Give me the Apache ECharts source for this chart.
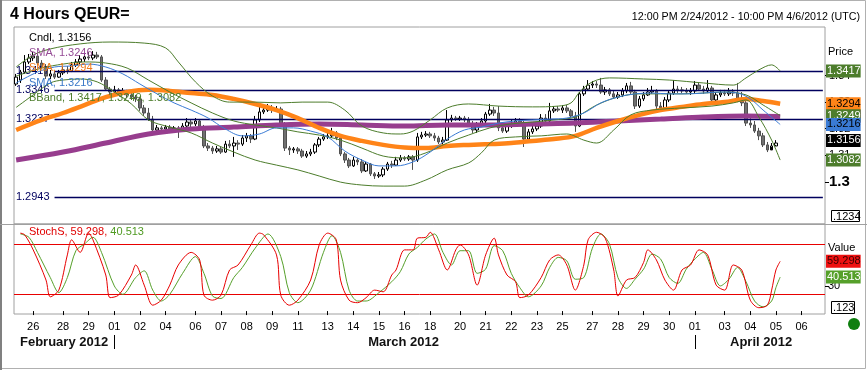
<!DOCTYPE html>
<html><head><meta charset="utf-8">
<script src="https://cdn.jsdelivr.net/npm/echarts@6/dist/echarts.min.js"></script>
<style>html,body{margin:0;padding:0;background:#fff}#c{width:867px;height:370px}</style>
</head><body><div id="c"></div>
<script>
const FONT = '"Liberation Sans", Arial, sans-serif';

// ---- axis structure (4-hour slots) ----
const slotCount = 190;
const dayTicks = [[4,'26'],[11,'28'],[17,'29'],[23,'01'],[29,'02'],[35,'04'],[42,'06'],[48,'07'],[54,'08'],[60,'09'],[66,'11'],[73,'13'],[79,'14'],[85,'15'],[91,'16'],[97,'18'],[104,'20'],[110,'21'],[116,'22'],[122,'23'],[128,'25'],[135,'27'],[141,'28'],[147,'29'],[153,'30'],[159,'01'],[166,'03'],[172,'04'],[178,'05'],[184,'06']];
const monthBreaks = [23, 159];
const priceTicks = [1.30, 1.31, 1.32, 1.33, 1.34];
const stochTicks = [30];
const priceLevels = [1.3417, 1.3346, 1.3237, 1.2943];
const stochLevels = [80, 20];

// ---- candles ----
const opens = [1.3368,1.3383,
1.3413,1.3451,1.3466,1.3473,1.3447,1.3432,1.3398,1.3406,1.3394,1.3410,
1.3421,1.3417,1.3440,1.3451,1.3462,1.3470,1.3466,1.3477,1.3470,1.3383,
1.3349,1.3338,1.3346,1.3334,1.3342,1.3327,1.3319,1.3312,1.3278,1.3259,
1.3236,1.3195,1.3203,1.3199,1.3206,1.3199,1.3203,1.3195,1.3210,1.3225,
1.3218,1.3229,1.3206,1.3135,1.3127,1.3116,1.3124,1.3112,1.3142,1.3135,
1.3146,1.3142,1.3165,1.3173,1.3161,1.3233,1.3263,1.3270,1.3278,1.3270,
1.3274,1.3214,1.3127,1.3120,1.3124,1.3116,1.3097,1.3105,1.3112,1.3139,
1.3161,1.3169,1.3173,1.3184,1.3165,1.3105,1.3082,1.3060,1.3082,1.3075,
1.3041,1.3067,1.3030,1.3022,1.3026,1.3048,1.3067,1.3063,1.3082,1.3090,
1.3086,1.3094,1.3082,1.3169,1.3176,1.3180,1.3173,1.3165,1.3150,1.3157,
1.3233,1.3240,1.3236,1.3240,1.3233,1.3218,1.3195,1.3214,1.3229,1.3255,
1.3270,1.3259,1.3203,1.3191,1.3210,1.3221,1.3229,1.3221,1.3161,1.3188,
1.3199,1.3210,1.3240,1.3229,1.3267,1.3274,1.3270,1.3278,1.3267,1.3248,
1.3210,1.3331,1.3349,1.3364,1.3368,1.3364,1.3338,1.3346,1.3331,1.3319,
1.3327,1.3342,1.3361,1.3338,1.3285,1.3312,1.3327,1.3338,1.3342,1.3285,
1.3278,1.3308,1.3334,1.3349,1.3346,1.3342,1.3338,1.3342,1.3364,1.3349,
1.3342,1.3353,1.3308,1.3327,1.3334,1.3331,1.3338,1.3334,1.3308,1.3297,
1.3221,1.3214,1.3191,1.3173,1.3139,1.3120,1.3135,1.3146];
const closes = [1.3394,
1.3413,1.3451,1.3466,1.3473,1.3447,1.3432,1.3398,1.3406,1.3394,1.3410,
1.3421,1.3417,1.3440,1.3451,1.3462,1.3470,1.3466,1.3477,1.3470,1.3383,
1.3349,1.3338,1.3346,1.3334,1.3342,1.3327,1.3319,1.3312,1.3278,1.3259,
1.3236,1.3195,1.3203,1.3199,1.3206,1.3199,1.3203,1.3195,1.3210,1.3225,
1.3218,1.3229,1.3206,1.3135,1.3127,1.3116,1.3124,1.3112,1.3142,1.3135,
1.3146,1.3142,1.3165,1.3173,1.3161,1.3233,1.3263,1.3270,1.3278,1.3270,
1.3274,1.3214,1.3127,1.3120,1.3124,1.3116,1.3097,1.3105,1.3112,1.3139,
1.3161,1.3169,1.3173,1.3184,1.3165,1.3105,1.3082,1.3060,1.3082,1.3075,
1.3041,1.3067,1.3030,1.3022,1.3026,1.3048,1.3067,1.3063,1.3082,1.3090,
1.3086,1.3094,1.3082,1.3169,1.3176,1.3180,1.3173,1.3165,1.3150,1.3157,
1.3233,1.3240,1.3236,1.3240,1.3233,1.3218,1.3195,1.3214,1.3229,1.3255,
1.3270,1.3259,1.3203,1.3191,1.3210,1.3221,1.3229,1.3221,1.3161,1.3188,
1.3199,1.3210,1.3240,1.3229,1.3267,1.3274,1.3270,1.3278,1.3267,1.3248,
1.3210,1.3331,1.3349,1.3364,1.3368,1.3364,1.3338,1.3346,1.3331,1.3319,
1.3327,1.3342,1.3361,1.3338,1.3285,1.3312,1.3327,1.3338,1.3342,1.3285,
1.3278,1.3308,1.3334,1.3349,1.3346,1.3342,1.3338,1.3342,1.3364,1.3349,
1.3342,1.3353,1.3308,1.3327,1.3334,1.3331,1.3338,1.3334,1.3308,1.3297,
1.3221,1.3214,1.3191,1.3173,1.3139,1.3120,1.3135,1.3146,1.3156];
const highs = [1.3406,
1.3421,1.3477,1.3481,1.3489,1.3481,1.3458,1.3443,1.3421,1.3417,1.3421,
1.3432,1.3436,1.3451,1.3462,1.3477,1.3481,1.3489,1.3492,1.3489,1.3477,
1.3394,1.3357,1.3361,1.3353,1.3353,1.3346,1.3334,1.3327,1.3319,1.3289,
1.3278,1.3248,1.3214,1.3210,1.3214,1.3214,1.3210,1.3210,1.3221,1.3240,
1.3236,1.3240,1.3236,1.3214,1.3146,1.3135,1.3135,1.3131,1.3154,1.3157,
1.3169,1.3157,1.3176,1.3184,1.3180,1.3248,1.3282,1.3285,1.3293,1.3289,
1.3285,1.3282,1.3225,1.3135,1.3131,1.3131,1.3124,1.3116,1.3124,1.3146,
1.3169,1.3180,1.3188,1.3203,1.3191,1.3173,1.3112,1.3090,1.3094,1.3090,
1.3086,1.3075,1.3071,1.3037,1.3037,1.3056,1.3075,1.3079,1.3094,1.3101,
1.3097,1.3101,1.3101,1.3184,1.3188,1.3191,1.3188,1.3184,1.3173,1.3169,
1.3270,1.3252,1.3248,1.3248,1.3248,1.3244,1.3229,1.3225,1.3240,1.3263,
1.3293,1.3282,1.3285,1.3218,1.3221,1.3233,1.3240,1.3240,1.3229,1.3199,
1.3210,1.3221,1.3255,1.3255,1.3297,1.3285,1.3285,1.3289,1.3289,1.3274,
1.3263,1.3338,1.3361,1.3383,1.3379,1.3379,1.3391,1.3357,1.3353,1.3342,
1.3338,1.3353,1.3372,1.3376,1.3346,1.3323,1.3338,1.3353,1.3361,1.3349,
1.3300,1.3319,1.3342,1.3383,1.3361,1.3357,1.3353,1.3353,1.3379,1.3372,
1.3361,1.3383,1.3361,1.3338,1.3346,1.3346,1.3353,1.3349,1.3372,1.3338,
1.3304,1.3240,1.3229,1.3203,1.3184,1.3150,1.3146,1.3157,1.3169];
const lows = [1.3361,
1.3372,1.3406,1.3443,1.3455,1.3440,1.3425,1.3387,1.3387,1.3387,1.3391,
1.3402,1.3406,1.3413,1.3432,1.3443,1.3451,1.3458,1.3458,1.3462,1.3376,
1.3342,1.3327,1.3331,1.3323,1.3327,1.3315,1.3308,1.3300,1.3267,1.3248,
1.3229,1.3188,1.3191,1.3191,1.3195,1.3191,1.3191,1.3165,1.3191,1.3206,
1.3206,1.3210,1.3199,1.3127,1.3116,1.3105,1.3109,1.3105,1.3109,1.3127,
1.3094,1.3120,1.3135,1.3150,1.3146,1.3157,1.3225,1.3255,1.3263,1.3259,
1.3263,1.3206,1.3116,1.3101,1.3109,1.3105,1.3090,1.3090,1.3097,1.3105,
1.3131,1.3154,1.3161,1.3165,1.3157,1.3097,1.3071,1.3052,1.3056,1.3063,
1.3033,1.3037,1.3022,1.3011,1.3015,1.3018,1.3041,1.3052,1.3060,1.3075,
1.3079,1.3079,1.3045,1.3075,1.3161,1.3169,1.3165,1.3154,1.3142,1.3139,
1.3154,1.3225,1.3229,1.3229,1.3225,1.3210,1.3184,1.3184,1.3206,1.3218,
1.3248,1.3248,1.3191,1.3184,1.3184,1.3203,1.3218,1.3214,1.3131,1.3154,
1.3180,1.3191,1.3203,1.3221,1.3221,1.3259,1.3263,1.3259,1.3259,1.3240,
1.3188,1.3206,1.3323,1.3342,1.3353,1.3353,1.3331,1.3327,1.3323,1.3312,
1.3312,1.3319,1.3334,1.3331,1.3274,1.3278,1.3304,1.3323,1.3331,1.3274,
1.3270,1.3270,1.3300,1.3327,1.3334,1.3334,1.3331,1.3327,1.3334,1.3342,
1.3331,1.3334,1.3293,1.3304,1.3319,1.3323,1.3323,1.3323,1.3300,1.3285,
1.3210,1.3203,1.3184,1.3157,1.3131,1.3112,1.3131,1.3139];

// ---- indicators: [slot, value] ----
const smaPurple = [[0,1.3082],[11,1.3112],[21,1.3146],[31,1.3180],[41,1.3199],[51,1.3206],[61,1.3214],[71,1.3218],[81,1.3214],[91,1.3210],[101,1.3214],[111,1.3214],[121,1.3218],[131,1.3221],[141,1.3229],[151,1.3236],[161,1.3244],[171,1.3248],[179,1.3246]];
const smaOrange = [[0,1.3195],[6,1.3233],[11,1.3259],[16,1.3289],[21,1.3319],[26,1.3338],[31,1.3346],[36,1.3342],[41,1.3334],[46,1.3327],[51,1.3312],[56,1.3293],[61,1.3270],[66,1.3240],[71,1.3203],[76,1.3173],[81,1.3154],[86,1.3139],[91,1.3129],[96,1.3127],[101,1.3135],[106,1.3139],[111,1.3142],[116,1.3146],[121,1.3154],[126,1.3161],[131,1.3173],[136,1.3203],[141,1.3229],[146,1.3252],[151,1.3270],[156,1.3282],[161,1.3293],[166,1.3300],[171,1.3312],[175,1.3304],[179,1.3294]];
const smaBlue = [[0,1.3372],[5,1.3413],[9,1.3432],[13,1.3436],[17,1.3443],[21,1.3432],[25,1.3406],[29,1.3368],[33,1.3331],[37,1.3297],[41,1.3270],[45,1.3240],[49,1.3199],[53,1.3173],[57,1.3180],[61,1.3203],[65,1.3203],[69,1.3191],[73,1.3169],[77,1.3116],[81,1.3082],[85,1.3060],[89,1.3060],[93,1.3075],[97,1.3112],[101,1.3161],[105,1.3195],[109,1.3206],[113,1.3221],[117,1.3229],[121,1.3233],[125,1.3236],[129,1.3240],[133,1.3259],[137,1.3297],[141,1.3319],[145,1.3331],[149,1.3334],[153,1.3331],[157,1.3331],[161,1.3334],[165,1.3338],[169,1.3334],[172,1.3312],[175,1.3270],[179,1.3216]];
const bbUpper = [[0,1.3432],[4,1.3477],[8,1.3500],[15,1.3519],[22,1.3526],[30,1.3522],[35,1.3504],[38,1.3451],[42,1.3376],[46,1.3323],[50,1.3300],[56,1.3300],[62,1.3297],[67,1.3300],[73,1.3300],[77,1.3270],[81,1.3210],[86,1.3184],[90,1.3180],[93,1.3191],[97,1.3233],[101,1.3278],[106,1.3293],[113,1.3285],[121,1.3282],[127,1.3285],[130,1.3297],[132,1.3338],[135,1.3376],[139,1.3391],[147,1.3387],[153,1.3383],[161,1.3372],[168,1.3364],[171,1.3391],[174,1.3421],[177,1.3440],[179,1.3417]];
const bbMiddle = [[0,1.3398],[6,1.3428],[11,1.3443],[16,1.3451],[21,1.3447],[26,1.3428],[31,1.3383],[36,1.3338],[41,1.3297],[46,1.3259],[51,1.3229],[56,1.3214],[61,1.3203],[66,1.3188],[71,1.3176],[76,1.3157],[81,1.3127],[86,1.3097],[91,1.3090],[96,1.3109],[101,1.3146],[106,1.3176],[111,1.3203],[116,1.3218],[121,1.3225],[126,1.3233],[131,1.3244],[136,1.3289],[141,1.3319],[146,1.3331],[151,1.3331],[156,1.3331],[161,1.3334],[166,1.3338],[171,1.3327],[175,1.3289],[179,1.3249]];
const bbLower = [[0,1.3280],[4,1.3327],[8,1.3372],[11,1.3383],[15,1.3387],[19,1.3376],[23,1.3338],[27,1.3293],[31,1.3233],[36,1.3206],[41,1.3184],[46,1.3146],[51,1.3112],[56,1.3082],[61,1.3063],[66,1.3045],[71,1.3022],[76,1.2999],[81,1.2988],[86,1.2984],[91,1.2984],[96,1.3007],[101,1.3045],[106,1.3071],[109,1.3109],[112,1.3157],[117,1.3169],[123,1.3173],[129,1.3180],[133,1.3157],[136,1.3146],[140,1.3195],[144,1.3252],[149,1.3270],[156,1.3278],[163,1.3285],[168,1.3297],[171,1.3308],[174,1.3244],[177,1.3157],[179,1.3082]];
const stochK = [[1,93],[2,91],[4,73],[7,37],[8,17],[10,25],[12,67],[13,85],[15,70],[17,93],[18,85],[21,43],[22,16],[24,19],[27,43],[28,55],[30,31],[32,7],[34,13],[36,31],[38,55],[41,70],[43,61],[44,19],[46,13],[48,19],[50,49],[52,55],[55,79],[57,93],[58,91],[61,67],[62,19],[64,7],[66,13],[69,37],[71,79],[73,93],[75,85],[76,37],[78,13],[80,10],[82,16],[84,25],[86,23],[88,43],[89,49],[91,73],[93,73],[94,87],[96,88],[97,94],[99,73],[101,49],[103,73],[104,79],[106,67],[108,31],[110,67],[112,87],[113,67],[115,43],[117,35],[118,16],[120,19],[123,40],[125,61],[127,67],[129,55],[131,25],[133,55],[134,85],[136,94],[138,87],[140,49],[141,18],[143,37],[145,40],[147,58],[148,73],[150,61],[152,37],[154,25],[156,49],[158,55],[160,73],[162,67],[164,31],[166,25],[168,55],[170,49],[172,13],[174,4],[176,7],[177,25],[178,49],[179,59.298]];
const stochD = [[1,92],[3,88],[5,70],[8,40],[10,22],[12,40],[14,72],[16,80],[18,88],[20,70],[23,30],[25,20],[28,40],[30,48],[32,25],[34,12],[36,20],[39,45],[42,65],[44,45],[46,18],[48,15],[51,40],[53,52],[56,75],[59,92],[62,65],[64,22],[66,10],[69,25],[72,70],[74,90],[76,70],[78,25],[80,12],[82,12],[85,22],[88,35],[90,47],[92,68],[94,76],[96,86],[98,92],[100,70],[102,55],[104,72],[106,72],[108,45],[110,50],[112,78],[114,72],[116,45],[118,28],[120,17],[123,30],[125,52],[127,64],[129,60],[131,38],[133,40],[135,75],[137,92],[139,80],[141,40],[143,27],[145,38],[147,50],[149,68],[151,62],[153,40],[155,33],[157,50],[159,62],[161,70],[163,50],[165,30],[167,38],[169,52],[171,35],[173,12],[175,5],[177,12],[178,28],[179,40.513]];
const lastValues = {close:1.3156, purple:1.3246, orange:1.3294, blue:1.3216, bbU:1.3417, bbM:1.3249, bbL:1.3082, k:59.298, d:40.513};

// ---- colours ----
const C = {navy:'#00005e', purple:'#973d8e', orange:'#ff8418', blue:'#3a7bd5', green:'#4d7d2c', red:'#e80000', sgreen:'#56a02a', frame:'#a0a0a0'};

const categories = Array.from({length: slotCount}, (_, k) => 's' + k);
const labelMap = new Map(dayTicks);
const monthSet = new Set(monthBreaks);

const chart = echarts.init(document.getElementById('c'), null, {renderer:'canvas'});
const lineBase = (name, data, color, width, z) => ({type:'line', name, data, xAxisIndex:0, yAxisIndex:0,
  symbol:'none', smooth:0.35, lineStyle:{color, width}, z, animation:false, silent:true});

const navyLines = priceLevels.map(v => [
  {coord:[9, v], label:{show:true, position:'start', distance:5, formatter:v.toFixed(4), color:C.navy, fontSize:11, fontFamily:FONT}},
  {coord:[slotCount-1, v]}
]);

const baseGraphic = [
  {type:'rect', shape:{x:0.5, y:0.5, width:865, height:368}, style:{fill:'none', stroke:'#b0b0b0', lineWidth:1}, z:100},
  {type:'line', shape:{x1:1, y1:0, x2:1, y2:370}, style:{stroke:'#808080', lineWidth:2}, z:100},
  {type:'line', shape:{x1:0, y1:224.5, x2:867, y2:224.5}, style:{stroke:C.frame, lineWidth:1}, z:100},
  {type:'text', x:10, y:15, style:{text:'4 Hours QEUR=', font:'bold 16px '+FONT, fill:'#000', verticalAlign:'middle'}, z:100},
  {type:'text', x:860, y:17, style:{text:'12:00 PM 2/24/2012 - 10:00 PM 4/6/2012 (UTC)', font:'10.7px '+FONT, fill:'#000', align:'right', verticalAlign:'middle'}, z:100},
  {type:'text', x:29, y:38, style:{text:'Cndl, '+lastValues.close.toFixed(4), font:'11px '+FONT, fill:'#000', verticalAlign:'middle'}, z:100},
  {type:'text', x:29, y:53, style:{text:'SMA, '+lastValues.purple.toFixed(4), font:'11px '+FONT, fill:'#954a95', verticalAlign:'middle'}, z:100},
  {type:'text', x:29, y:68, style:{text:'SMA, '+lastValues.orange.toFixed(4), font:'11px '+FONT, fill:'#f07a1a', verticalAlign:'middle'}, z:100},
  {type:'text', x:29, y:83, style:{text:'SMA, '+lastValues.blue.toFixed(4), font:'11px '+FONT, fill:'#3a78c8', verticalAlign:'middle'}, z:100},
  {type:'text', x:29, y:98, style:{text:'BBand, '+lastValues.bbU.toFixed(4)+', '+lastValues.bbM.toFixed(4)+', '+lastValues.bbL.toFixed(4), font:'11px '+FONT, fill:'#4d7d2c', verticalAlign:'middle'}, z:100},
  {type:'text', x:29, y:232, style:{text:'{r|StochS, '+lastValues.k.toFixed(3)+', }{g|'+lastValues.d.toFixed(3)+'}', font:'11px '+FONT, verticalAlign:'middle',
    rich:{r:{fill:'#e00000', font:'11px '+FONT}, g:{fill:'#4f9a22', font:'11px '+FONT}}}, z:100},
  {type:'text', x:828, y:52, style:{text:'Price', font:'11px '+FONT, fill:'#000', verticalAlign:'middle'}, z:100},
  {type:'text', x:828, y:248, style:{text:'Value', font:'11px '+FONT, fill:'#000', verticalAlign:'middle'}, z:100},
  {type:'rect', shape:{x:831.5, y:210.5, width:28, height:11}, style:{fill:'#fff', stroke:'#000', lineWidth:1}, z:100},
  {type:'text', x:833, y:216.5, style:{text:'.1234', font:'11px '+FONT, fill:'#000', verticalAlign:'middle'}, z:101},
  {type:'rect', shape:{x:831.5, y:301.5, width:23, height:12}, style:{fill:'#fff', stroke:'#000', lineWidth:1}, z:100},
  {type:'text', x:833, y:308, style:{text:'.123', font:'11px '+FONT, fill:'#000', verticalAlign:'middle'}, z:101},
  {type:'circle', shape:{cx:854, cy:324, r:6}, style:{fill:'#0f7f0f'}, z:100},
  {type:'text', x:20, y:342, style:{text:'February 2012', font:'bold 13px '+FONT, fill:'#111', verticalAlign:'middle'}, z:100},
  {type:'text', x:439, y:342, style:{text:'March 2012', font:'bold 13px '+FONT, fill:'#111', align:'right', verticalAlign:'middle'}, z:100},
  {type:'text', x:730, y:342, style:{text:'April 2012', font:'bold 13px '+FONT, fill:'#111', verticalAlign:'middle'}, z:100}
];

const option = {
  animation:false,
  backgroundColor:'#fff',
  grid:[
    {left:14, top:27, width:811, height:197, show:true, borderColor:C.frame, borderWidth:1},
    {left:14, top:224, width:811, height:90, show:true, borderColor:C.frame, borderWidth:1}
  ],
  xAxis:[
    {type:'category', gridIndex:0, data:categories, boundaryGap:true, show:false},
    {type:'category', gridIndex:1, data:categories, boundaryGap:true,
      axisLine:{show:false},
      axisTick:{show:true, alignWithLabel:true, interval:(i)=>labelMap.has(i), length:4, lineStyle:{color:'#000'}},
      axisLabel:{interval:(i)=>labelMap.has(i), formatter:(v,i)=>labelMap.get(i)||'', fontSize:11, color:'#000', margin:7, fontFamily:FONT}},
    {type:'category', gridIndex:1, data:categories, boundaryGap:true, position:'bottom', offset:21,
      axisLine:{show:false},
      axisTick:{show:true, alignWithLabel:true, interval:(i)=>monthSet.has(i), length:14, lineStyle:{color:'#000'}},
      axisLabel:{show:false}}
  ],
  yAxis:[
    {type:'value', gridIndex:0, position:'right', min:1.284143, max:1.358252,
      splitLine:{show:false}, axisLine:{show:false},
      axisTick:{show:true, customValues:priceTicks, length:4, lineStyle:{color:'#000'}},
      axisLabel:{customValues:priceTicks, margin:4, color:'#000', fontSize:11, fontFamily:FONT,
        formatter:(v)=> Math.abs(v-1.3)<1e-9 ? '{b|1.3}' : (+v.toFixed(2)).toString(),
        rich:{b:{fontWeight:'bold', fontSize:15, fontFamily:FONT, color:'#000'}}}},
    {type:'value', gridIndex:1, position:'right', min:-3.5, max:103.87,
      splitLine:{show:false}, axisLine:{show:false},
      axisTick:{show:true, customValues:stochTicks, length:4, lineStyle:{color:'#000'}},
      axisLabel:{customValues:stochTicks, margin:3, color:'#000', fontSize:11, fontFamily:FONT}}
  ],
  series:[
    {type:'candlestick', xAxisIndex:0, yAxisIndex:0, barWidth:3, z:2, silent:true,
      data: opens.map((o,k)=>[o, closes[k], lows[k], highs[k]]),
      itemStyle:{color:'#ffffff', color0:'#707070', borderColor:'#000000', borderColor0:'#505050', borderWidth:1},
      markLine:{silent:true, symbol:['none','none'], animation:false, z:3,
        lineStyle:{color:C.navy, width:1.4, type:'solid'}, data:navyLines}},
    lineBase('SMA purple', smaPurple, C.purple, 5, 4),
    lineBase('SMA orange', smaOrange, C.orange, 4.5, 5),
    lineBase('BB upper', bbUpper, C.green, 1, 6),
    lineBase('BB middle', bbMiddle, C.green, 1, 6),
    lineBase('BB lower', bbLower, C.green, 1, 6),
    lineBase('SMA blue', smaBlue, C.blue, 1, 7),
    {type:'line', name:'%D', data:stochD, xAxisIndex:1, yAxisIndex:1, symbol:'none', smooth:0.3, silent:true,
      lineStyle:{color:C.sgreen, width:1}, z:3},
    {type:'line', name:'%K', data:stochK, xAxisIndex:1, yAxisIndex:1, symbol:'none', smooth:0.3, silent:true,
      lineStyle:{color:C.red, width:1}, z:4,
      markLine:{silent:true, symbol:['none','none'], animation:false, z:2,
        lineStyle:{color:C.red, width:1, type:'solid'}, label:{show:false},
        data: stochLevels.map(v=>({yAxis:v}))}}
  ],
  graphic: baseGraphic
};
chart.setOption(option);

// value boxes on the right edge, placed through the axis scales
const valueBoxes = [
  {axis:0, v:lastValues.orange, dec:4, bg:C.orange, fg:'#000'},
  {axis:0, v:lastValues.purple, dec:4, bg:C.purple, fg:'#fff'},
  {axis:0, v:lastValues.bbM, dec:4, bg:C.green, fg:'#fff'},
  {axis:0, v:lastValues.blue, dec:4, bg:C.blue, fg:'#000'},
  {axis:0, v:lastValues.close, dec:4, bg:'#000', fg:'#fff'},
  {axis:0, v:lastValues.bbL, dec:4, bg:C.green, fg:'#fff'},
  {axis:0, v:lastValues.bbU, dec:4, bg:C.green, fg:'#fff'},
  {axis:1, v:lastValues.k, dec:3, bg:'#ee1111', fg:'#3a0000'},
  {axis:1, v:lastValues.d, dec:3, bg:C.sgreen, fg:'#fff'}
];
const boxGraphic = valueBoxes.map((b, i) => ({
  type:'text', x:826, y: chart.convertToPixel({yAxisIndex:b.axis}, b.v), z:110+i,
  style:{text:b.v.toFixed(b.dec), font:'11px '+FONT, fill:b.fg, backgroundColor:b.bg,
    padding:[1,0,0,1], lineHeight:12, verticalAlign:'middle', align:'left'}
}));
chart.setOption({graphic: baseGraphic.concat(boxGraphic)});
</script></body></html>
